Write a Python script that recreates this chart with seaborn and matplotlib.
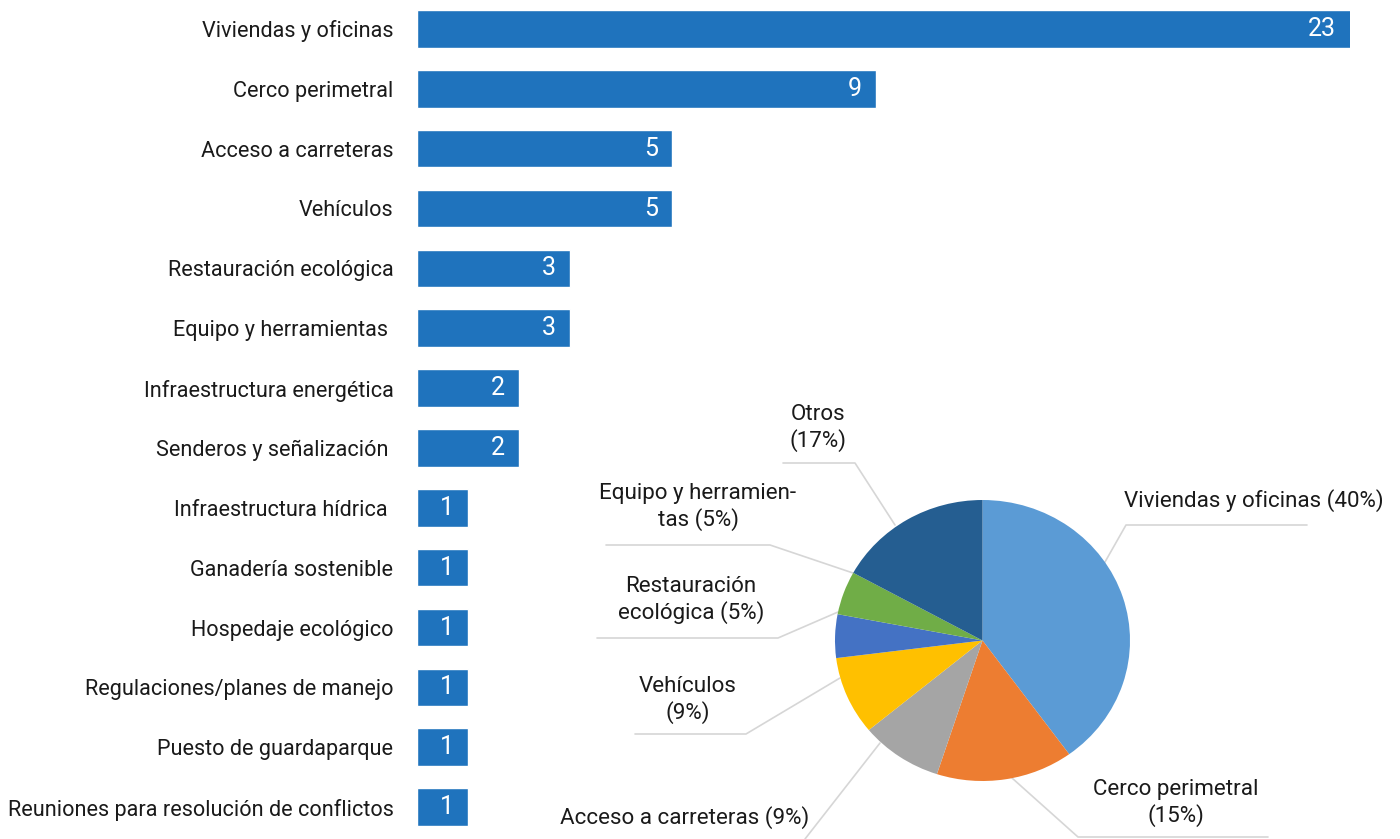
import matplotlib
matplotlib.use("Agg")
import matplotlib.pyplot as plt
import seaborn as sns
import pandas as pd

# bar chart data
categories = ["Viviendas y oficinas", "Cerco perimetral", "Acceso a carreteras", "Vehículos",
              "Restauración ecológica", "Equipo y herramientas ", "Infraestructura energética",
              "Senderos y señalización ", "Infraestructura hídrica ", "Ganadería sostenible",
              "Hospedaje ecológico", "Regulaciones/planes de manejo", "Puesto de guardaparque",
              "Reuniones para resolución de conflictos"]
counts = [23, 9, 5, 5, 3, 3, 2, 2, 1, 1, 1, 1, 1, 1]

# pie chart data
pie_pct = [40, 15, 9, 9, 5, 5, 17]
pie_text = ["Viviendas y oficinas (40%)", "Cerco perimetral\n(15%)", "Acceso a carreteras (9%)",
            "Vehículos\n(9%)", "Restauración\necológica (5%)", "Equipo y herramien-\ntas (5%)",
            "Otros\n(17%)"]
pie_colors = ["#5B9BD5", "#ED7D31", "#A5A5A5", "#FFC000", "#4472C4", "#70AD47", "#255E91"]

BAR = "#1F73BD"
TXT = "#1A1A1A"
LINE = "#D6D6D6"

sns.set_style("white")
plt.rcParams["font.family"] = ["Roboto", "DejaVu Sans"]

W, H = 1400, 839
fig = plt.figure(figsize=(W / 100, H / 100), dpi=100)


def rect(x0, y0, x1, y1):
    # pixel box (left, top, right, bottom) -> figure fraction
    return [x0 / W, 1 - y1 / H, (x1 - x0) / W, (y1 - y0) / H]


# ---- bars
ax = fig.add_axes(rect(417, -1, 1350, 837))
df = pd.DataFrame({"cat": categories, "n": counts})
sns.barplot(data=df, x="n", y="cat", color=BAR, saturation=1, width=0.63, ax=ax)
ax.set_xlim(0, 18.3)
ax.set_ylim(len(categories) - 0.5, -0.5)
ax.set_xticks([])
ax.set_xlabel("")
ax.set_ylabel("")
ax.tick_params(axis="y", length=0, pad=17, labelsize=15.6, labelcolor=TXT)
sns.despine(ax=ax, left=True, bottom=True)

xmax = ax.get_xlim()[1]
for i, v in enumerate(counts):
    ax.annotate(str(v), (min(v, xmax), i), xytext=(-10, 0), textcoords="offset points",
                ha="right", va="center", color="white", fontsize=18)

# ---- pie
cx, cy, rx, ry = 982.5, 640.5, 147.5, 140.5
px0, py0, px1, py1 = 540, 390, 1400, 839
pax = fig.add_axes(rect(px0, py0, px1, py1))
pax.set_facecolor("none")
pax.pie(pie_pct, colors=pie_colors, startangle=90, counterclock=False, radius=1,
        wedgeprops=dict(linewidth=0))
pax.set_aspect("auto")
pax.set_xlim((px0 - cx) / rx, (px1 - cx) / rx)
pax.set_ylim((cy - py1) / ry, (cy - py0) / ry)
pax.set_axis_off()


def to_pie(x, y):
    return (x - cx) / rx, (cy - y) / ry


leaders = [
    [(1105, 562), (1126, 525), (1307, 525)],
    [(1012, 778), (1078, 837), (1268, 837)],
    [(880, 743), (805, 839)],
    [(840, 678), (746, 734), (635, 734)],
    [(838, 612), (778, 638), (597, 638)],
    [(853, 573), (770, 545), (606, 545)],
    [(895, 525), (855, 463), (783, 463)],
]
label_pos = [(1254, 501), (1176, 803), (685, 818), (688, 700), (691, 600), (698, 507), (818, 428)]

for pts, txt, (lx, ly) in zip(leaders, pie_text, label_pos):
    xs, ys = zip(*[to_pie(x, y) for x, y in pts])
    pax.plot(xs, ys, color=LINE, lw=1.2, clip_on=False, zorder=0)
    tx, ty = to_pie(lx, ly)
    pax.text(tx, ty, txt, ha="center", va="center", multialignment="center",
             fontsize=16.1, color=TXT, linespacing=1.2)

fig.savefig("out.png", dpi=100)
